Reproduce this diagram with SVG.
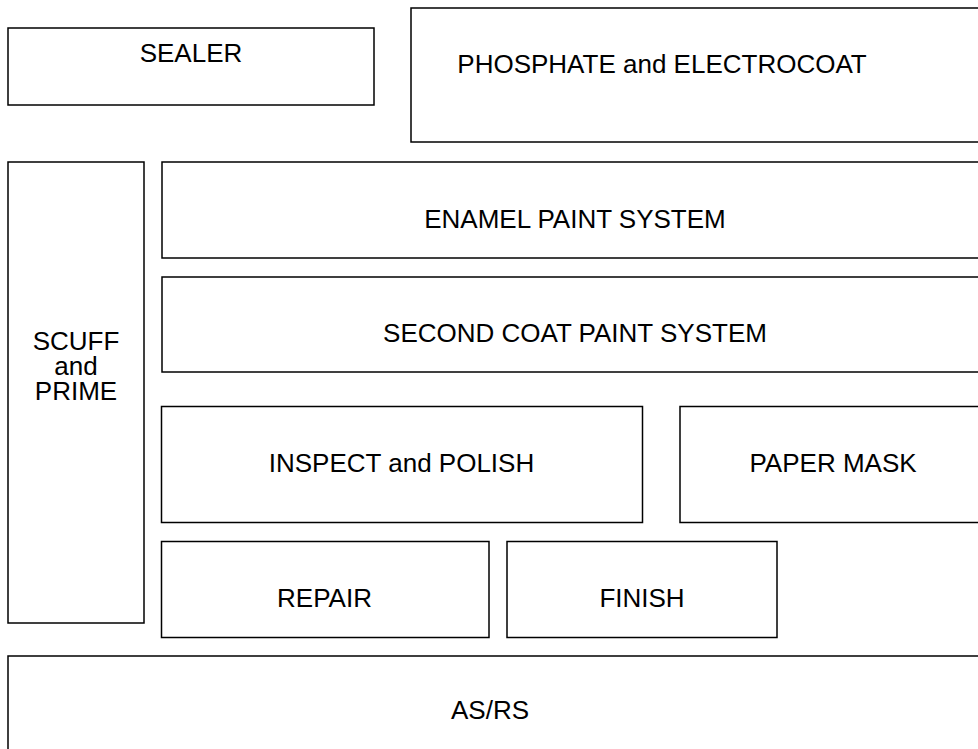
<svg xmlns="http://www.w3.org/2000/svg" width="978" height="749" viewBox="0 0 978 749">
<style>
rect{fill:#fff;stroke:#000;stroke-width:1.5}
text{font-family:"Liberation Sans",Arial,sans-serif;font-size:26px;fill:#000;text-anchor:middle}
</style>
<rect x="0" y="0" width="978" height="749" style="stroke:none"/>
<g id="sealer"><rect x="8" y="28" width="366" height="77"/><text x="191" y="62">SEALER</text></g>
<g id="phosphate"><rect x="411" y="8" width="600" height="134"/><text x="662" y="73">PHOSPHATE and ELECTROCOAT</text></g>
<g id="scuff"><rect x="8" y="162" width="136" height="461"/><text x="76" y="350">SCUFF</text><text x="76" y="375">and</text><text x="76" y="400">PRIME</text></g>
<g id="enamel"><rect x="162" y="162" width="830" height="96"/><text x="575" y="228">ENAMEL PAINT SYSTEM</text></g>
<g id="secondcoat"><rect x="162" y="277" width="830" height="95"/><text x="575" y="342">SECOND COAT PAINT SYSTEM</text></g>
<g id="inspect"><rect x="161.5" y="406.5" width="481" height="116"/><text x="401.5" y="472">INSPECT and POLISH</text></g>
<g id="papermask"><rect x="680" y="406.5" width="320" height="116"/><text x="833" y="472">PAPER MASK</text></g>
<g id="repair"><rect x="161.5" y="541.5" width="327.5" height="96"/><text x="324.5" y="607">REPAIR</text></g>
<g id="finish"><rect x="507" y="541.5" width="270" height="96"/><text x="642" y="607">FINISH</text></g>
<g id="asrs"><rect x="8" y="656" width="1000" height="200"/><text x="490" y="719">AS/RS</text></g>
<g id="connectors"></g>
</svg>
